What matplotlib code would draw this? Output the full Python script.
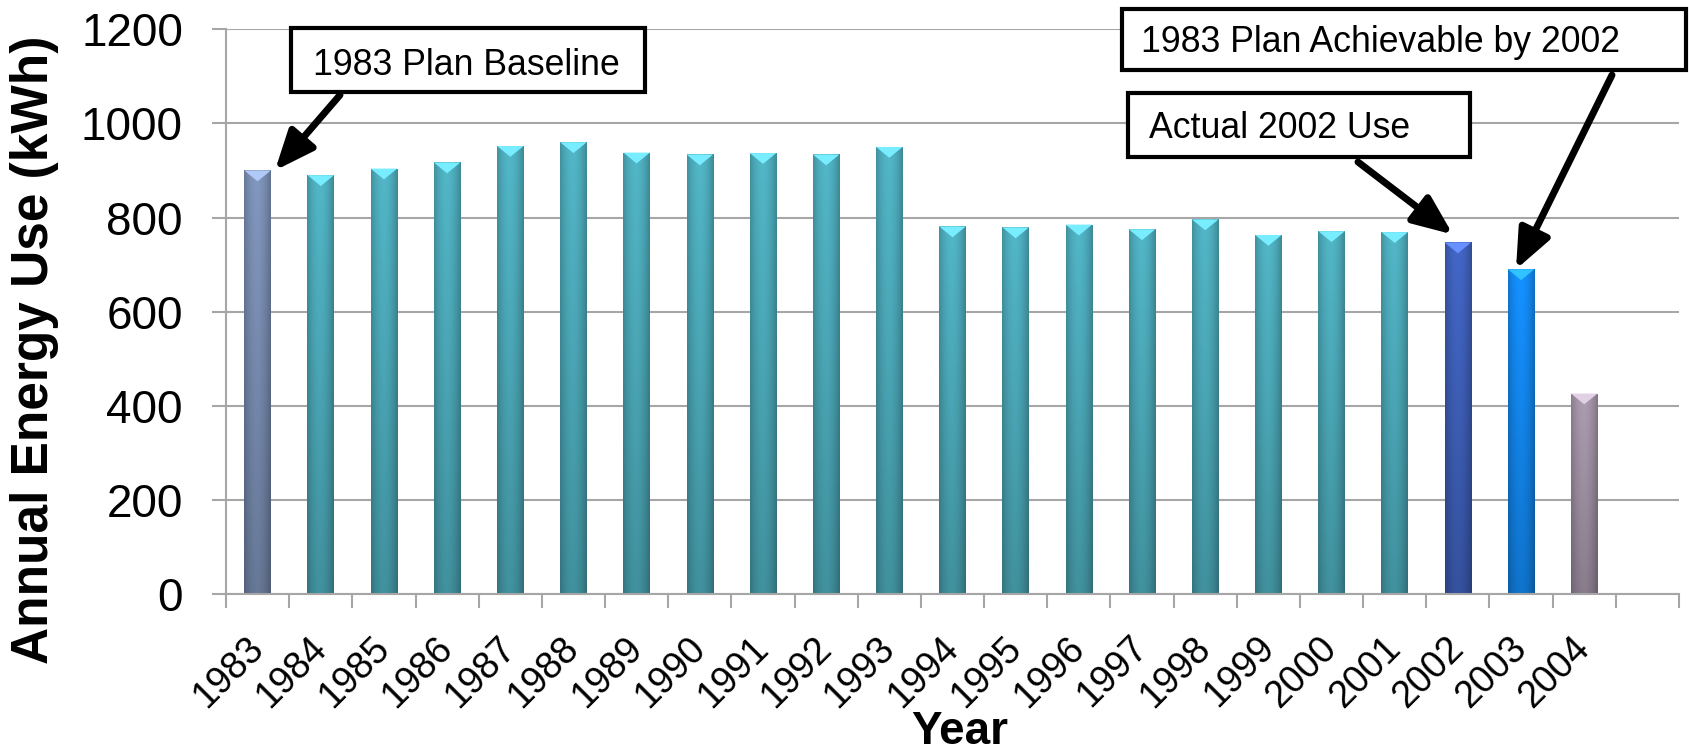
import numpy as np
import matplotlib
matplotlib.use('Agg')
import matplotlib.pyplot as plt
from matplotlib.patches import Rectangle, Polygon
from matplotlib.colors import to_rgb

# --- Data ---
years = ['1983', '1984', '1985', '1986', '1987', '1988', '1989', '1990', '1991', '1992', '1993',
         '1994', '1995', '1996', '1997', '1998', '1999', '2000', '2001', '2002', '2003', '2004']
usage = [900, 890, 904, 917, 952, 960, 938, 934, 937, 934, 950,
         781, 779, 785, 775, 796, 763, 771, 769, 747, 690, 426]
bar_colors = ['#7487AA'] + ['#49A3B2'] * 18 + ['#3C5CB2', '#1282E6', '#9A8C9E']

# annotations: text, index of bar pointed at
notes = [('1983 Plan Baseline', 0), ('Actual 2002 Use', 19), ('1983 Plan Achievable by 2002', 20)]

plt.rcParams['font.family'] = ['Liberation Sans', 'DejaVu Sans']

W, H = 1689, 754
fig = plt.figure(figsize=(W / 100, H / 100), dpi=100)
ax = fig.add_axes([226 / W, 1 - 594 / H, (1679 - 226) / W, (594 - 29.3) / H])


def fx(px):
    return px / W


def fy(py):
    return 1 - py / H


# --- Bars with a shaded look ---
n = len(years)
x = np.arange(n)
bw = 0.42
bars = ax.bar(x, usage, width=bw, color=bar_colors, edgecolor='none', zorder=2)

hh = np.linspace(-1, 1, 80)
hprof = 1.06 - 0.22 * hh ** 2 - 0.05 * np.clip(hh, 0, 1)
vprof = np.linspace(0.84, 1.06, 100)
for b, c in zip(bars, bar_colors):
    base = np.array(to_rgb(c))
    shade = vprof[:, None] * hprof[None, :]
    img = np.clip(shade[:, :, None] * base[None, None, :], 0, 1)
    x0, x1 = b.get_x(), b.get_x() + b.get_width()
    top = b.get_height()
    im = ax.imshow(img, extent=(x0, x1, 0, top), origin='lower', aspect='auto', zorder=2.1)
    im.set_clip_path(b)
    # lighter bevel at the top of each bar
    light = np.clip(base * 1.3 + 0.1, 0, 1)
    tri = Polygon([(x0, top), (x1, top), ((x0 + x1) / 2, top - 23)], closed=True,
                  facecolor=light, edgecolor='none', zorder=2.2)
    ax.add_patch(tri)

# --- Axes styling ---
ax.set_xlim(-0.5, n + 0.5)
ax.set_ylim(0, 1200)
ax.set_yticks(np.arange(0, 1201, 200))
ax.yaxis.grid(True, color='#A6A6A6', linewidth=1.5, zorder=0)
ax.set_axisbelow(True)
for s in ['top', 'right']:
    ax.spines[s].set_visible(False)
for s in ['left', 'bottom']:
    ax.spines[s].set_color('#A6A6A6')
    ax.spines[s].set_linewidth(1.5)

ax.set_xticks(np.arange(-0.5, n + 1, 1.0))
ax.set_xticklabels([])
ax.set_xticks(x, minor=True)
ax.set_xticklabels(years, minor=True, rotation=45, ha='right', va='center',
                   rotation_mode='anchor', fontsize=27)
ax.tick_params(axis='x', which='major', length=10, width=1.5, color='#A6A6A6', direction='out')
ax.tick_params(axis='x', which='minor', length=0, pad=35)
ax.tick_params(axis='y', length=10, width=1.5, color='#A6A6A6', labelsize=33, pad=21)

fig.text(fx(35), fy(350), 'Annual Energy Use (kWh)', rotation=90, ha='center', va='center',
         fontsize=37, fontweight='bold')
fig.text(fx(960), fy(744), 'Year', ha='center', va='baseline', fontsize=33, fontweight='bold')

# --- Annotation boxes and arrows ---
boxes = [(291, 28, 645, 92, 313, 75), (1128, 93, 1470, 157, 1149, 138), (1122, 9, 1686, 70, 1141, 52)]
tails = [(340, 95), (1358, 162), (1612, 75)]
tip_dx = [0.275, -0.08, -0.08]
tip_dy = [0, 17, 0]
for (label, idx), (l, t, r, bt, tx, ty), tail, ddx, ddy in zip(notes, boxes, tails, tip_dx, tip_dy):
    rect = Rectangle((fx(l), fy(bt)), fx(r) - fx(l), fy(t) - fy(bt), transform=fig.transFigure,
                     facecolor='white', edgecolor='black', linewidth=3, zorder=5)
    fig.add_artist(rect)
    fig.text(fx(tx), fy(ty), label, ha='left', va='baseline', fontsize=25.7, zorder=6)
    ax.annotate('', xy=(idx + ddx, usage[idx] + ddy), xycoords='data',
                xytext=(fx(tail[0]), fy(tail[1])), textcoords='figure fraction',
                arrowprops=dict(arrowstyle='-|>,head_length=1.0,head_width=0.42', mutation_scale=24,
                                color='black', linewidth=5, shrinkA=0, shrinkB=0),
                annotation_clip=False, zorder=6)

fig.savefig('out.png', dpi=100)
